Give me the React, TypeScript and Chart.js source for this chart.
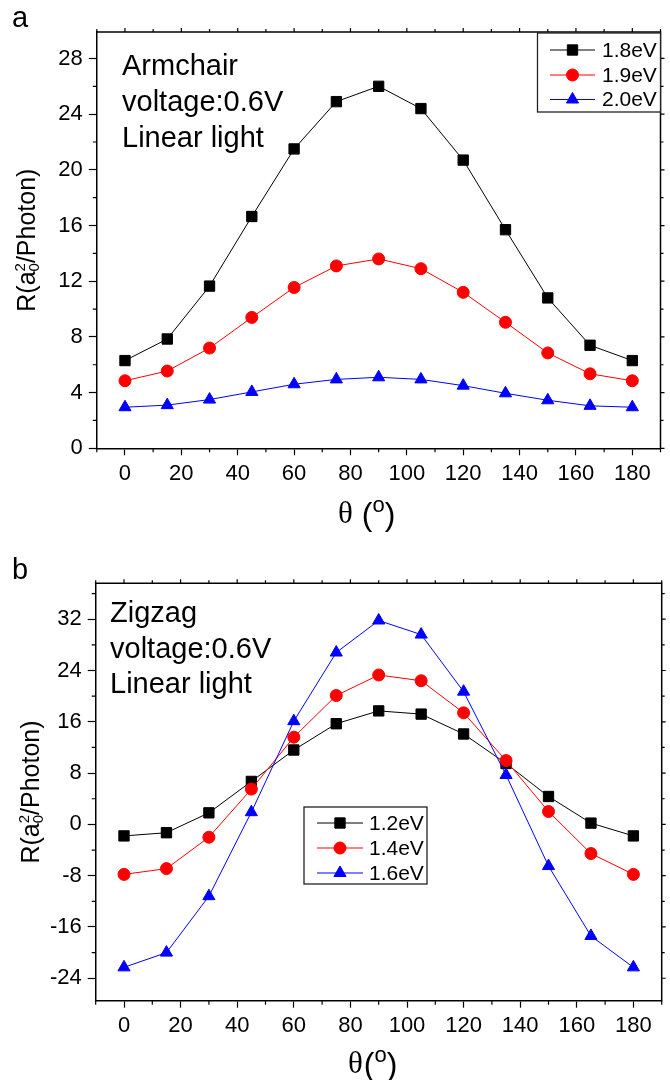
import React, { useEffect, useRef } from 'react';
import { Chart, registerables } from 'chart.js';

Chart.register(...registerables);

// ---------- data ----------
const thetaDeg = [0, 15, 30, 45, 60, 75, 90, 105, 120, 135, 150, 165, 180];
const xMajorTicks = [0, 20, 40, 60, 80, 100, 120, 140, 160, 180];
const xMinorTicks = [-10, 10, 30, 50, 70, 90, 110, 130, 150, 170, 190];

// panel a: armchair
const armchairLabels = ['1.8eV', '1.9eV', '2.0eV'];
const armchair18 = [6.3, 7.85, 11.65, 16.65, 21.5, 24.9, 26.0, 24.4, 20.7, 15.7, 10.8, 7.4, 6.3];
const armchair19 = [4.85, 5.55, 7.2, 9.4, 11.55, 13.1, 13.6, 12.9, 11.2, 9.05, 6.85, 5.35, 4.85];
const armchair20 = [2.95, 3.1, 3.5, 4.05, 4.6, 4.95, 5.1, 4.95, 4.5, 3.95, 3.45, 3.05, 2.95];
const armchairYMajor = [0, 4, 8, 12, 16, 20, 24, 28];
const armchairYMinor = [2, 6, 10, 14, 18, 22, 26];
const armchairNotes = ['Armchair', 'voltage:0.6V', 'Linear light'];

// panel b: zigzag
const zigzagLabels = ['1.2eV', '1.4eV', '1.6eV'];
const zigzag12 = [-1.8, -1.3, 1.8, 6.7, 11.6, 15.7, 17.7, 17.2, 14.1, 9.5, 4.35, 0.2, -1.8];
const zigzag14 = [-7.8, -6.9, -2.0, 5.5, 13.6, 20.1, 23.3, 22.4, 17.4, 9.95, 2.0, -4.55, -7.8];
const zigzag16 = [-22.3, -20.0, -11.2, 1.9, 16.1, 26.8, 31.8, 29.6, 20.7, 7.7, -6.5, -17.4, -22.3];
const zigzagYMajor = [-24, -16, -8, 0, 8, 16, 24, 32];
const zigzagYMinor = [-20, -12, -4, 4, 12, 20, 28, 36];
const zigzagNotes = ['Zigzag', 'voltage:0.6V', 'Linear light'];

// ---------- styling ----------
const SANS = "'Liberation Sans', Arial, Helvetica, sans-serif";
const SERIF = "'Liberation Serif', 'Times New Roman', serif";
const COLORS = ['#000000', '#ff0000', '#0000ff'];
const MARKERS = ['rect', 'circle', 'triangle'];
const RADII = [7.3, 6, 7];

type Panel = {
  letter: string;
  letterY: number;
  labels: string[];
  values: number[][];
  yMin: number;
  yMax: number;
  yMajor: number[];
  yMinor: number[];
  notes: string[];
  noteX: number;
  noteY: number[];
  padTop: number;
  padRight: number;
  yAxisWidth: number;
  xAxisHeight: number;
  yTitleX: number;
  xTitleX: number;
  xTitleY: number;
  xTitleSpace: boolean;
  legend: { x1: number; x2: number; y1: number; y2: number; rows: number[]; lineX1: number; lineX2: number; textX: number };
};

const panelA: Panel = {
  letter: 'a',
  letterY: 27,
  labels: armchairLabels,
  values: [armchair18, armchair19, armchair20],
  yMin: 0,
  yMax: 29.9,
  yMajor: armchairYMajor,
  yMinor: armchairYMinor,
  notes: armchairNotes,
  noteX: 122,
  noteY: [75, 110.7, 146.7],
  padTop: 32,
  padRight: 9.5,
  yAxisWidth: 96.8,
  xAxisHeight: 91.7,
  yTitleX: 26,
  xTitleX: 338,
  xTitleY: 523,
  xTitleSpace: true,
  legend: { x1: 537.5, x2: 660.5, y1: 33, y2: 112, rows: [50, 75, 99.5], lineX1: 550, lineX2: 595, textX: 602 },
};

const panelB: Panel = {
  letter: 'b',
  letterY: 39,
  labels: zigzagLabels,
  values: [zigzag12, zigzag14, zigzag16],
  yMin: -27.5,
  yMax: 37.6,
  yMajor: zigzagYMajor,
  yMinor: zigzagYMinor,
  notes: zigzagNotes,
  noteX: 110,
  noteY: [81.7, 118.3, 153.3],
  padTop: 43.3,
  padRight: 8,
  yAxisWidth: 95.7,
  xAxisHeight: 79.3,
  yTitleX: 29.5,
  xTitleX: 348,
  xTitleY: 533.3,
  xTitleSpace: false,
  legend: { x1: 304, x2: 427, y1: 267, y2: 344, rows: [283, 308, 333], lineX1: 317, lineX2: 363, textX: 369 },
};

function drawMarker(ctx: CanvasRenderingContext2D, kind: string, x: number, y: number, r: number, color: string) {
  ctx.save();
  ctx.fillStyle = color;
  ctx.strokeStyle = color;
  ctx.lineWidth = 1;
  ctx.beginPath();
  if (kind === 'rect') {
    const s = Math.SQRT1_2 * r;
    ctx.rect(x - s, y - s, 2 * s, 2 * s);
  } else if (kind === 'circle') {
    ctx.arc(x, y, r, 0, Math.PI * 2);
  } else {
    const w = Math.sin((Math.PI * 2) / 3) * r;
    ctx.moveTo(x, y - r);
    ctx.lineTo(x + w, y + r / 2);
    ctx.lineTo(x - w, y + r / 2);
    ctx.closePath();
  }
  ctx.fill();
  ctx.stroke();
  ctx.restore();
}

function decorPlugin(p: Panel) {
  return {
    id: 'decor',
    afterDraw(chart: any) {
      const ctx: CanvasRenderingContext2D = chart.ctx;
      const { left, right, top, bottom } = chart.chartArea;
      const xs = chart.scales.x;
      const ys = chart.scales.y;
      ctx.save();
      ctx.strokeStyle = '#000';
      // frame top/right
      ctx.lineWidth = 1.5;
      ctx.beginPath();
      ctx.moveTo(left - 0.75, top);
      ctx.lineTo(right, top);
      ctx.lineTo(right, bottom + 0.75);
      ctx.stroke();
      // ticks
      ctx.lineWidth = 1.2;
      ctx.beginPath();
      for (const v of xMinorTicks) {
        const px = xs.getPixelForValue(v);
        ctx.moveTo(px, bottom);
        ctx.lineTo(px, bottom + 4);
        ctx.moveTo(px, top);
        ctx.lineTo(px, top - 3);
      }
      for (const v of xMajorTicks) {
        const px = xs.getPixelForValue(v);
        ctx.moveTo(px, top);
        ctx.lineTo(px, top - 4);
      }
      for (const v of p.yMinor) {
        const py = ys.getPixelForValue(v);
        if (py < top - 0.5 || py > bottom + 0.5) continue;
        ctx.moveTo(left, py);
        ctx.lineTo(left - 4, py);
        ctx.moveTo(right, py);
        ctx.lineTo(right + 3, py);
      }
      for (const v of p.yMajor) {
        const py = ys.getPixelForValue(v);
        ctx.moveTo(right, py);
        ctx.lineTo(right + 4, py);
      }
      ctx.stroke();

      // legend
      const L = p.legend;
      ctx.fillStyle = '#fff';
      ctx.fillRect(L.x1, L.y1, L.x2 - L.x1, L.y2 - L.y1);
      ctx.strokeStyle = '#222';
      ctx.lineWidth = 1.3;
      ctx.strokeRect(L.x1, L.y1, L.x2 - L.x1, L.y2 - L.y1);
      chart.data.datasets.forEach((ds: any, i: number) => {
        const y = L.rows[i];
        ctx.strokeStyle = ds.borderColor;
        ctx.lineWidth = 1;
        ctx.beginPath();
        ctx.moveTo(L.lineX1, y);
        ctx.lineTo(L.lineX2, y);
        ctx.stroke();
        drawMarker(ctx, ds.pointStyle, (L.lineX1 + L.lineX2) / 2, y, ds.pointRadius, ds.borderColor);
        ctx.fillStyle = '#000';
        ctx.font = `21px ${SANS}`;
        ctx.textAlign = 'left';
        ctx.textBaseline = 'middle';
        ctx.fillText(ds.label, L.textX, y + 1);
      });

      // notes
      ctx.fillStyle = '#000';
      ctx.font = `29px ${SANS}`;
      ctx.textAlign = 'left';
      ctx.textBaseline = 'alphabetic';
      p.notes.forEach((t, i) => ctx.fillText(t, p.noteX, p.noteY[i]));

      // panel letter
      ctx.font = `29px ${SANS}`;
      ctx.fillText(p.letter, 12, p.letterY);

      // y title: R(a_0^2/Photon)
      ctx.save();
      ctx.translate(p.yTitleX, (top + bottom) / 2);
      ctx.rotate(-Math.PI / 2);
      const big = `25px ${SANS}`;
      const small = `15px ${SANS}`;
      ctx.font = big;
      const w1 = ctx.measureText('R(a').width;
      const w3 = ctx.measureText('/Photon)').width;
      ctx.font = small;
      const w2 = Math.max(ctx.measureText('2').width, ctx.measureText('0').width);
      const total = w1 + w2 + w3;
      let x = -total / 2;
      const base = 9;
      ctx.font = big;
      ctx.fillText('R(a', x, base);
      x += w1;
      ctx.font = small;
      ctx.fillText('2', x, base - 10);
      ctx.fillText('0', x, base + 4);
      x += w2;
      ctx.font = big;
      ctx.fillText('/Photon)', x, base);
      ctx.restore();

      // x title: θ (°)
      let tx = p.xTitleX;
      const ty = p.xTitleY;
      ctx.font = `31px ${SERIF}`;
      ctx.fillText('θ', tx, ty);
      tx += ctx.measureText('θ').width;
      ctx.font = `32px ${SANS}`;
      if (p.xTitleSpace) tx += 9;
      else tx += 1;
      ctx.fillText('(', tx, ty + 2);
      tx += ctx.measureText('(').width;
      ctx.font = `22px ${SANS}`;
      ctx.fillText('o', tx, ty - 11);
      tx += ctx.measureText('o').width;
      ctx.font = `32px ${SANS}`;
      ctx.fillText(')', tx, ty + 2);

      ctx.restore();
    },
  };
}

function PanelChart({ p }: { p: Panel }) {
  const ref = useRef<HTMLCanvasElement>(null);
  useEffect(() => {
    const n = p.values.length;
    const chart = new Chart(ref.current as HTMLCanvasElement, {
      type: 'line',
      data: {
        datasets: p.values.map((vals, i) => ({
          label: p.labels[i],
          data: thetaDeg.map((x, j) => ({ x, y: vals[j] })),
          borderColor: COLORS[i],
          backgroundColor: COLORS[i],
          borderWidth: 1,
          pointStyle: MARKERS[i] as any,
          pointRadius: RADII[i],
          pointBorderWidth: 1,
          pointBackgroundColor: COLORS[i],
          pointBorderColor: COLORS[i],
          tension: 0,
          fill: false,
          order: n - i,
        })),
      },
      options: {
        responsive: false,
        animation: false,
        devicePixelRatio: 1,
        layout: { padding: { top: p.padTop, right: p.padRight, left: 0, bottom: 0 } },
        plugins: {
          legend: { display: false },
          tooltip: { enabled: false },
          title: { display: false },
        },
        scales: {
          x: {
            type: 'linear',
            min: -10,
            max: 190,
            afterBuildTicks: (s: any) => {
              s.ticks = xMajorTicks.map((v) => ({ value: v }));
            },
            afterFit: (s: any) => {
              s.height = p.xAxisHeight;
            },
            grid: { drawOnChartArea: false, drawTicks: true, tickLength: 7, tickColor: '#000', tickWidth: 1.2 },
            border: { display: true, color: '#000', width: 1.5 },
            ticks: { color: '#000', font: { family: SANS, size: 22 }, padding: 5, maxRotation: 0, autoSkip: false },
          },
          y: {
            type: 'linear',
            min: p.yMin,
            max: p.yMax,
            afterBuildTicks: (s: any) => {
              s.ticks = p.yMajor.map((v) => ({ value: v }));
            },
            afterFit: (s: any) => {
              s.width = p.yAxisWidth;
            },
            grid: { drawOnChartArea: false, drawTicks: true, tickLength: 8, tickColor: '#000', tickWidth: 1.2 },
            border: { display: true, color: '#000', width: 1.5 },
            ticks: { color: '#000', font: { family: SANS, size: 22 }, padding: 6, autoSkip: false },
          },
        },
      },
      plugins: [decorPlugin(p)],
    });
    return () => chart.destroy();
  }, []);
  return <canvas ref={ref} width={670} height={540} style={{ display: 'block' }} />;
}

export default function App() {
  useEffect(() => {
    document.body.style.margin = '0';
    document.body.style.background = '#fff';
  }, []);
  return (
    <div style={{ width: 670, height: 1080, background: '#fff' }}>
      <PanelChart p={panelA} />
      <PanelChart p={panelB} />
    </div>
  );
}
